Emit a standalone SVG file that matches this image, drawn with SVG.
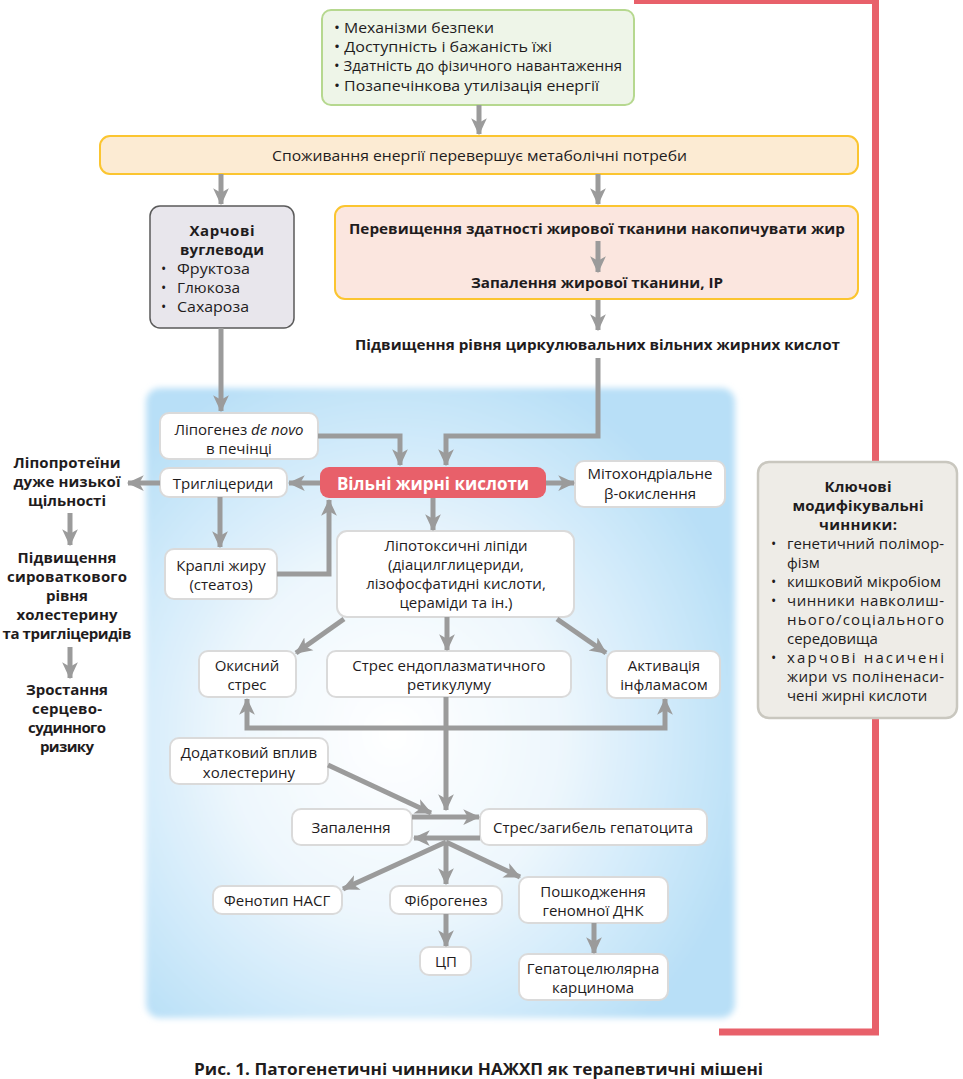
<svg xmlns="http://www.w3.org/2000/svg" width="963" height="1079" viewBox="0 0 963 1079">
<style>
text{font-family:"Open Sans","Noto Sans","DejaVu Sans",sans-serif;fill:#1f1c1d}
.t{font-size:14px}
.m{font-size:15px}
.c{text-anchor:middle}
.b{font-weight:bold}
.nb{fill:#fff;stroke:#dadada;stroke-width:2}
.con path{fill:none;stroke:#9b9b9b;stroke-width:5;marker-end:url(#ah)}
</style>
<defs>
<marker id="ah" markerUnits="userSpaceOnUse" markerWidth="18" markerHeight="18" viewBox="0 0 16 16" refX="14" refY="8" orient="auto-start-reverse">
<path d="M0,1 L15,8 L0,15 L4,8 Z" fill="#9b9b9b"/>
</marker>
<radialGradient id="bg" cx="0.42" cy="0.55" r="0.62">
<stop offset="0" stop-color="#ffffff"/>
<stop offset="0.45" stop-color="#eef7fd"/>
<stop offset="1" stop-color="#b8dff7"/>
</radialGradient>
<filter id="soft" x="-5%" y="-5%" width="110%" height="110%"><feGaussianBlur stdDeviation="3"/></filter>
</defs>
<rect width="963" height="1079" fill="#fff"/>
<!-- red frame line -->
<path d="M634,0.5 L875.5,0.5 L875.5,1032 L719,1032" fill="none" stroke="#e8606a" stroke-width="7"/>
<!-- blue background -->
<rect x="146" y="388" width="589" height="630" rx="14" fill="url(#bg)" filter="url(#soft)"/>

<g id="n-top">
<rect x="322" y="10" width="312" height="95" rx="9" fill="#eef5e8" stroke="#b6d88f" stroke-width="2"/>
<text class="m" x="334" y="33" textLength="160" lengthAdjust="spacingAndGlyphs">• Механізми безпеки</text>
<text class="m" x="334" y="52" textLength="218" lengthAdjust="spacingAndGlyphs">• Доступність і бажаність їжі</text>
<text class="m" x="334" y="71" textLength="288" lengthAdjust="spacingAndGlyphs">• Здатність до фізичного навантаження</text>
<text class="m" x="334" y="91" textLength="265" lengthAdjust="spacingAndGlyphs">• Позапечінкова утилізація енергії</text>
</g>
<g id="n-energy">
<rect x="100" y="136" width="758" height="38" rx="10" fill="#fcebd3" stroke="#fbc530" stroke-width="2"/>
<text class="m" x="272" y="161" textLength="415" lengthAdjust="spacingAndGlyphs">Споживання енергії перевершує метаболічні потреби</text>
</g>
<g id="n-carbs">
<rect x="150" y="206" width="144" height="122" rx="10" fill="#e8e6ec" stroke="#5a5a5a" stroke-width="1.5"/>
<text class="m b c" x="222" y="236" textLength="65">Харчові</text>
<text class="m b c" x="222" y="255" textLength="84">вуглеводи</text>
<text class="t" x="161" y="274">•</text><text class="m" x="177" y="274" textLength="73" lengthAdjust="spacingAndGlyphs">Фруктоза</text>
<text class="t" x="161" y="293">•</text><text class="m" x="177" y="293" textLength="63" lengthAdjust="spacingAndGlyphs">Глюкоза</text>
<text class="t" x="161" y="312">•</text><text class="m" x="177" y="312" textLength="72" lengthAdjust="spacingAndGlyphs">Сахароза</text>
</g>
<g id="n-adipose">
<rect x="335" y="206" width="523" height="93" rx="10" fill="#fbe6df" stroke="#fbc530" stroke-width="2"/>
<text class="m b" x="349" y="234" textLength="496" lengthAdjust="spacingAndGlyphs">Перевищення здатності жирової тканини накопичувати жир</text>
<text class="m b" x="471" y="288" textLength="252" lengthAdjust="spacingAndGlyphs">Запалення жирової тканини, ІР</text>
</g>
<g id="n-ffa-circ">
<text class="m b" x="355" y="350" textLength="485" lengthAdjust="spacingAndGlyphs">Підвищення рівня циркулювальних вільних жирних кислот</text>
</g>
<g id="n-lipogenesis">
<rect class="nb" x="160" y="413" width="158" height="46" rx="9"/>
<text class="m c" x="239" y="435">Ліпогенез <tspan font-style="italic">de novo</tspan></text>
<text class="m c" x="239" y="454">в печінці</text>
</g>
<g id="n-trig">
<rect class="nb" x="160" y="468" width="127" height="29" rx="9"/>
<text class="m c" x="223" y="489">Тригліцериди</text>
</g>
<g id="n-ffa">
<rect x="320" y="467" width="226" height="31" rx="9" fill="#e8606a"/>
<text class="c b" x="433" y="490" style="fill:#fff;font-size:17px">Вільні жирні кислоти</text>
</g>
<g id="n-mito">
<rect class="nb" x="575" y="461" width="150" height="46" rx="9"/>
<text class="m c" x="650" y="479">Мітохондріальне</text>
<text class="m c" x="650" y="499">β-окислення</text>
</g>
<g id="n-drop">
<rect class="nb" x="165" y="549" width="112" height="50" rx="9"/>
<text class="m c" x="221" y="571">Краплі жиру</text>
<text class="m c" x="221" y="590">(стеатоз)</text>
</g>
<g id="n-lipotox">
<rect class="nb" x="337" y="531" width="237" height="86" rx="10"/>
<text class="m c" x="456" y="551">Ліпотоксичні ліпіди</text>
<text class="m c" x="456" y="570">(діацилглицериди,</text>
<text class="m c" x="456" y="589">лізофосфатидні кислоти,</text>
<text class="m c" x="456" y="608">цераміди та ін.)</text>
</g>
<g id="n-oxid">
<rect class="nb" x="199" y="651" width="97" height="46" rx="9"/>
<text class="m c" x="247" y="671">Окисний</text>
<text class="m c" x="247" y="690">стрес</text>
</g>
<g id="n-er">
<rect class="nb" x="327" y="651" width="244" height="46" rx="9"/>
<text class="m c" x="449" y="671">Стрес ендоплазматичного</text>
<text class="m c" x="449" y="690">ретикулуму</text>
</g>
<g id="n-inflam">
<rect class="nb" x="607" y="651" width="113" height="47" rx="9"/>
<text class="m c" x="664" y="671">Активація</text>
<text class="m c" x="664" y="690">інфламасом</text>
</g>
<g id="n-chol">
<rect class="nb" x="170" y="738" width="158" height="46" rx="9"/>
<text class="m c" x="249" y="758">Додатковий вплив</text>
<text class="m c" x="249" y="778">холестерину</text>
</g>
<g id="n-infl">
<rect class="nb" x="292" y="809" width="120" height="36" rx="9"/>
<text class="m c" x="351" y="833">Запалення</text>
</g>
<g id="n-hep">
<rect class="nb" x="480" y="809" width="227" height="36" rx="9"/>
<text class="m c" x="593" y="833">Стрес/загибель гепатоцита</text>
</g>
<g id="n-nash">
<rect class="nb" x="213" y="886" width="129" height="28" rx="9"/>
<text class="m c" x="277" y="906">Фенотип НАСГ</text>
</g>
<g id="n-fibro">
<rect class="nb" x="390" y="886" width="112" height="28" rx="9"/>
<text class="m c" x="446" y="906">Фіброгенез</text>
</g>
<g id="n-dna">
<rect class="nb" x="519" y="877" width="149" height="46" rx="9"/>
<text class="m c" x="593" y="897">Пошкодження</text>
<text class="m c" x="593" y="916">геномної ДНК</text>
</g>
<g id="n-cp">
<rect class="nb" x="420" y="947" width="51" height="28" rx="9"/>
<text class="m c" x="446" y="967">ЦП</text>
</g>
<g id="n-hcc">
<rect class="nb" x="519" y="954" width="149" height="46" rx="9"/>
<text class="m c" x="593" y="974">Гепатоцелюлярна</text>
<text class="m c" x="593" y="993">карцинома</text>
</g>
<g id="n-vldl">
<text class="m b c" x="67" y="468" textLength="107">Ліпопротеїни</text>
<text class="m b c" x="67" y="487" textLength="107">дуже низької</text>
<text class="m b c" x="67" y="506" textLength="78">щільності</text>
</g>
<g id="n-serum">
<text class="m b c" x="67" y="563" textLength="99">Підвищення</text>
<text class="m b c" x="67" y="582" textLength="120">сироваткового</text>
<text class="m b c" x="67" y="601" textLength="42">рівня</text>
<text class="m b c" x="67" y="620" textLength="101">холестерину</text>
<text class="m b c" x="67" y="639" textLength="129">та тригліцеридів</text>
</g>
<g id="n-risk">
<text class="m b c" x="67" y="695" textLength="82">Зростання</text>
<text class="m b c" x="67" y="714" textLength="70">серцево-</text>
<text class="m b c" x="67" y="733" textLength="78">судинного</text>
<text class="m b c" x="67" y="752" textLength="54">ризику</text>
</g>
<g id="n-key">
<rect x="758" y="462" width="199" height="256" rx="11" fill="#eeece7" stroke="#c9c7bf" stroke-width="2.5"/>
<text class="m b c" x="858" y="492" textLength="67">Ключові</text>
<text class="m b c" x="858" y="511" textLength="131">модифікувальні</text>
<text class="m b c" x="858" y="530" textLength="78">чинники:</text>
<text class="t" x="771" y="549">•</text><text class="m" x="787" y="549" textLength="157" lengthAdjust="spacing">генетичний полімор-</text>
<text class="m" x="787" y="568">фізм</text>
<text class="t" x="771" y="587">•</text><text class="m" x="787" y="587" textLength="154" lengthAdjust="spacing">кишковий мікробіом</text>
<text class="t" x="771" y="606">•</text><text class="m" x="787" y="606" textLength="157" lengthAdjust="spacing">чинники навколиш-</text>
<text class="m" x="787" y="625" textLength="157" lengthAdjust="spacing">нього/соціального</text>
<text class="m" x="787" y="644">середовища</text>
<text class="t" x="771" y="663">•</text><text class="m" x="787" y="663" textLength="157" lengthAdjust="spacing">харчові насичені</text>
<text class="m" x="787" y="682" textLength="157" lengthAdjust="spacing">жири vs поліненаси-</text>
<text class="m" x="787" y="701">чені жирні кислоти</text>
</g>

<g id="connectors" class="con">
<path d="M479,105 L479,134"/>
<path d="M221,174 L221,204"/>
<path d="M598,174 L598,204"/>
<path d="M598,241 L598,272"/>
<path d="M598,300 L598,330"/>
<path d="M598,358 L598,436 L446,436 L446,465"/>
<path d="M221,328 L221,411"/>
<path d="M318,436 L400,436 L400,465"/>
<path d="M320,483 L289,483"/>
<path d="M160,483 L128,483"/>
<path d="M220,497 L220,547"/>
<path d="M277,574 L329,574 L329,500"/>
<path d="M546,483 L574,483"/>
<path d="M433,498 L433,530"/>
<path d="M344,619 L296,653"/>
<path d="M447,617 L447,650"/>
<path d="M557,619 L606,653"/>
<path d="M446,697 L446,810"/>
<path d="M247,699 L247,728 L665,728 L665,699" style="marker-start:url(#ah)"/>
<path d="M328,765 L431,813"/>
<path d="M412,817 L479,817"/>
<path d="M480,838 L414,838"/>
<path d="M446,842 L343,889"/>
<path d="M446,842 L446,884"/>
<path d="M446,842 L520,877"/>
<path d="M446,914 L446,946"/>
<path d="M594,923 L594,953"/>
<path d="M70,513 L70,545"/>
<path d="M70,647 L70,678"/>
</g>
<text class="b" x="194" y="1075" style="font-size:16.5px" textLength="569" lengthAdjust="spacingAndGlyphs">Рис. 1. Патогенетичні чинники НАЖХП як терапевтичні мішені</text>
</svg>
